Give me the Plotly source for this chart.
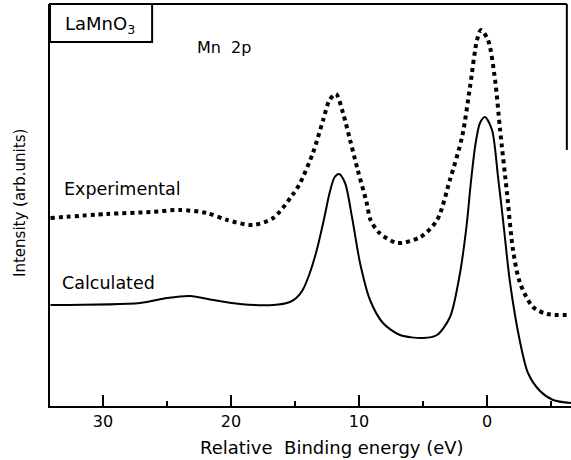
import plotly.graph_objects as go

# Experimental (dotted) curve: relative binding energy (eV) vs intensity (arb.)
exp_e = [34.1, 29.7, 26.3, 24.0, 21.9, 20.3, 18.3, 16.7, 15.2, 14.6, 13.6, 12.8, 12.3, 11.8,
         11.25, 10.7, 10.1, 9.4, 9.1, 8.4, 7.0, 5.2, 3.9, 2.9, 1.95, 1.33, 0.78, 0.47,
         -0.08, -0.63, -1.02, -1.56, -2.03, -2.58, -3.59, -4.69, -6.5]
exp_i = [188, 192, 194, 196, 193, 186, 181, 188, 211, 223, 253, 286, 306, 312,
         293, 266, 236, 203, 186, 173, 163, 169, 186, 226, 269, 319, 366, 376,
         366, 326, 276, 213, 156, 123, 99, 92, 91]

# Calculated (solid) curve
calc_e = [34.1, 27.1, 25.0, 23.2, 21.4, 19.3, 16.7, 15.4, 14.9, 14.4, 13.9, 13.3, 12.7, 12.3,
          11.9, 11.56, 11.09, 10.55, 9.92, 9.14, 8.13, 6.8, 5.0, 3.91, 2.89, 2.11, 1.6,
          1.25, 0.9, 0.55, 0.16, -0.39, -0.86, -1.25, -1.8, -2.58, -3.2, -4.14, -5.16, -6.56]
calc_i = [101, 103, 108, 110, 106, 102, 101, 104, 108, 116, 131, 156, 189, 213,
          229, 232, 223, 189, 143, 106, 83, 71, 68, 71, 89, 133, 180,
          225, 262, 283, 289, 276, 229, 186, 123, 64, 33, 15, 6, 3]

major_ticks = [30, 20, 10, 0]
tick_labels = ["30", "20", "10", "0"]
minor_ticks = [25, 15, 5, -5]

FONT = "DejaVu Sans"

fig = go.Figure()
fig.add_trace(go.Scatter(x=exp_e, y=exp_i, mode="lines",
                         line=dict(color="black", width=4, dash="4px,4px", shape="spline", smoothing=0.8),
                         showlegend=False, hoverinfo="skip"))
fig.add_trace(go.Scatter(x=calc_e, y=calc_i, mode="lines",
                         line=dict(color="black", width=2, shape="spline", smoothing=0.8),
                         showlegend=False, hoverinfo="skip"))

def ann(text, x, y, size, angle=0):
    return dict(text=text, xref="paper", yref="paper", x=x, y=y, xanchor="center",
                yanchor="middle", showarrow=False, textangle=angle,
                font=dict(size=size, family=FONT, color="black"))

fig.update_layout(
    width=571, height=460,
    margin=dict(l=50, r=0, t=4, b=54),
    paper_bgcolor="white", plot_bgcolor="white",
    font=dict(family=FONT, color="black", size=15),
    xaxis=dict(range=[34.14, -6.56], showgrid=False, zeroline=False,
               showline=True, linecolor="black", linewidth=2,
               tickmode="array", tickvals=major_ticks, ticktext=tick_labels,
               ticks="inside", ticklen=11, tickwidth=2, tickcolor="black",
               tickfont=dict(size=16, family=FONT),
               minor=dict(ticks="inside", ticklen=5, tickwidth=2, tickcolor="black",
                          tickmode="array", tickvals=minor_ticks)),
    yaxis=dict(range=[0, 402], showgrid=False, zeroline=False,
               showline=True, linecolor="black", linewidth=2,
               showticklabels=False, ticks=""),
    shapes=[
        dict(type="line", xref="paper", yref="paper", x0=0, x1=0.992, y0=1, y1=1,
             line=dict(color="black", width=2)),
        dict(type="line", xref="paper", yref="paper", x0=0.992, x1=0.992, y0=1, y1=0.637,
             line=dict(color="black", width=2)),
        dict(type="rect", xref="paper", yref="paper", x0=0, x1=0.196, y0=0.9055, y1=1,
             line=dict(color="black", width=2)),
    ],
    annotations=[
        ann("LaMnO<sub>3</sub>", 0.096, 0.948, 18),
        ann("Mn  2p", 0.334, 0.891, 16),
        ann("Experimental", 0.140, 0.540, 17.5),
        ann("Calculated", 0.113, 0.306, 17.5),
        ann("Relative  Binding energy (eV)", 0.541, -0.102, 18),
        ann("Intensity (arb.units)", -0.0576, 0.505, 15, -90),
    ],
)

fig.write_html("out.html")
